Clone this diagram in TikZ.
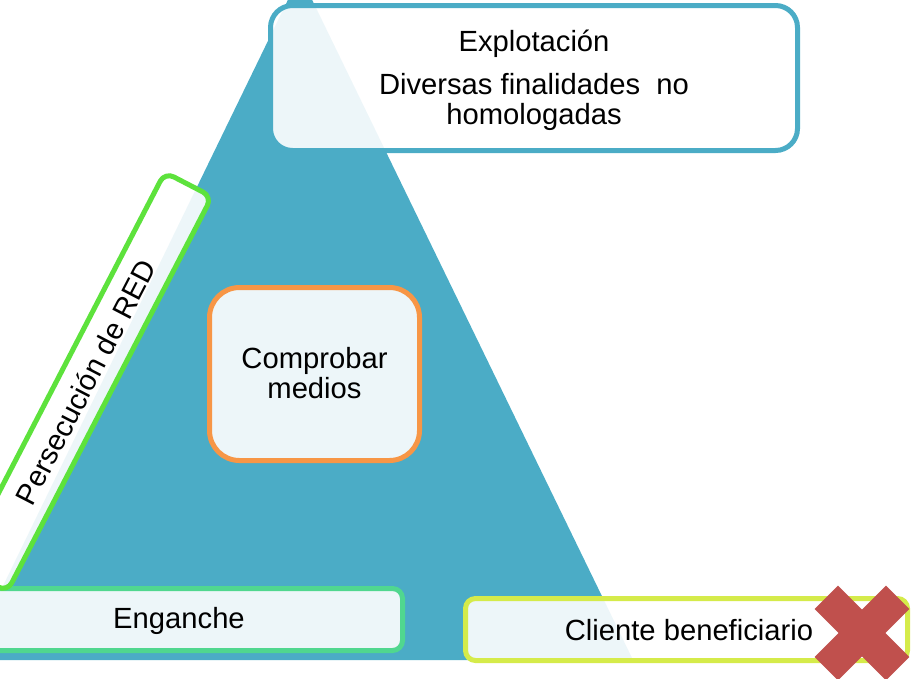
\documentclass[tikz,border=0pt]{standalone}
\usepackage{fontspec}
\setmainfont{Liberation Sans}
\definecolor{teal5}{HTML}{4BACC6}
\definecolor{orange6}{HTML}{F79646}
\definecolor{greenA}{HTML}{50D78F}
\definecolor{greenB}{HTML}{5DE23C}
\definecolor{yellowC}{HTML}{D5EB4A}
\definecolor{redX}{HTML}{C0504D}
\tikzset{
  panel/.style={draw, line width=5pt, fill=white, fill opacity=0.9, text opacity=1, inner sep=0pt},
  txt/.style={font=\fontsize{29.2pt}{30pt}\selectfont, inner sep=0pt, anchor=base},
  xbar/.style={fill=redX, draw=none, minimum width=101pt, minimum height=33pt, inner sep=0pt}
}
\begin{document}
\begin{tikzpicture}[x=1pt,y=-1pt]
\useasboundingbox (0,0) rectangle (912,678);
\clip (0,0) rectangle (912,678);
% triangle
\fill[teal5] (300,-25) -- (-33,660) -- (633,660) -- cycle;
% top box
\node[panel, draw=teal5, rounded corners=22pt, minimum width=527pt, minimum height=145pt] (expl) at (534,78) {};
\node[txt] (t1) at (534,51.7) {Explotación};
\node[txt] (t2) at (534,94.3) {Diversas finalidades~ no};
\node[txt] (t3) at (534,124) {homologadas};
% middle box
\node[panel, draw=orange6, rounded corners=30pt, minimum width=210pt, minimum height=173pt] (comp) at (314.5,374) {};
\node[txt] (c1) at (314.5,368) {Comprobar};
\node[txt] (c2) at (314.5,398) {medios};
% bottom left box
\node[panel, draw=greenA, rounded corners=10pt, minimum width=447pt, minimum height=62pt] (eng) at (179,619.5) {};
\node[txt] (e1) at (179,628) {Enganche};
% rotated box
\node[panel, draw=greenB, rounded corners=10pt, minimum width=445pt, minimum height=53pt, rotate=62.6,
      font=\fontsize{29.2pt}{30pt}\selectfont, text height=21pt, text depth=0pt] (pers) at (86,382) {Persecución de RED};
% bottom right box
\node[panel, draw=yellowC, rounded corners=10pt, minimum width=442pt, minimum height=62pt] (cli) at (686.5,629.5) {};
\node[txt] (cl1) at (689,640) {Cliente beneficiario};
% red cross
\node[xbar, rotate=45] (xa) at (862,633) {};
\node[xbar, rotate=-45] (xb) at (862,633) {};
\end{tikzpicture}
\end{document}
